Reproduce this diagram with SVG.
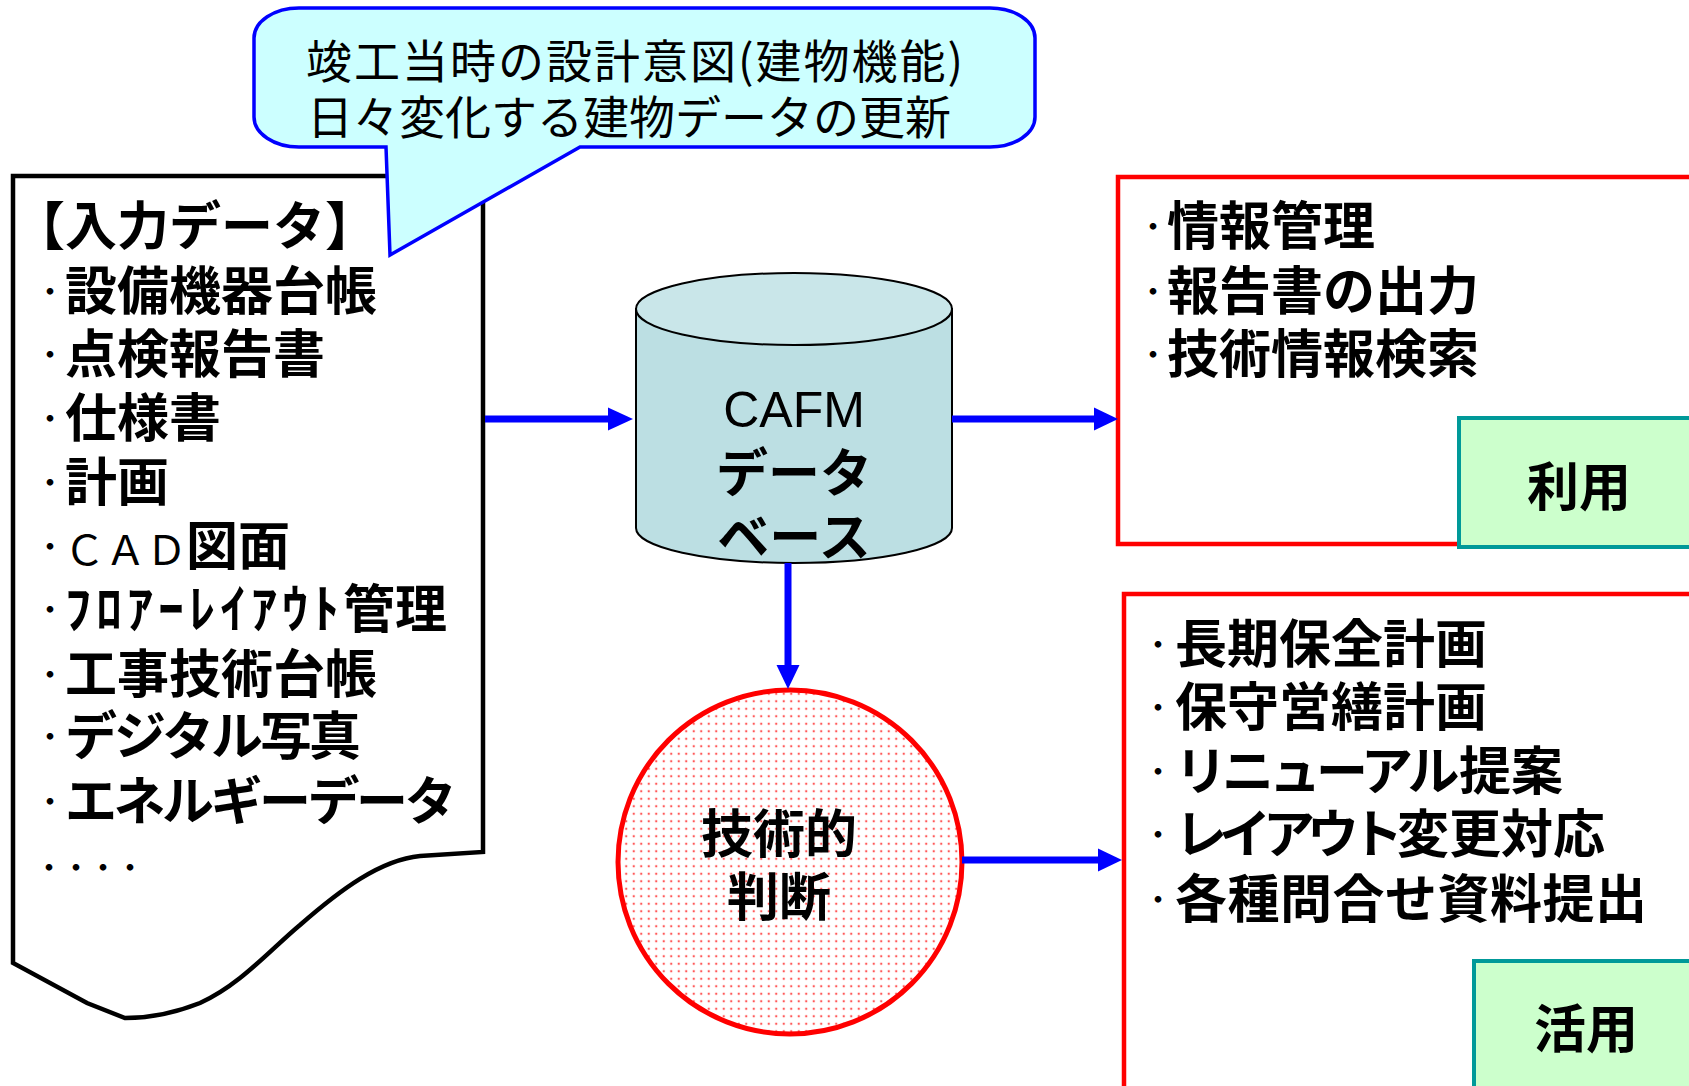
<svg xmlns="http://www.w3.org/2000/svg" width="1689" height="1086" viewBox="0 0 1689 1086">
<style>
.jp{font-family:"Noto Sans CJK JP","Noto Sans",sans-serif;fill:#000}
.b{font-weight:bold;font-size:52px}
.r{font-weight:normal;font-size:46px}
.bul{font-size:26px;font-weight:bold}
.red{fill:#fff;stroke:#ff0000;stroke-width:4.5}
.grn{fill:#ccffcc;stroke:#009999;stroke-width:4}
.conn line{stroke:#0000ff;stroke-width:7}
.conn polygon{fill:#0000ff}
</style>
<defs>
<pattern id="dots" width="7.5" height="7.5" patternUnits="userSpaceOnUse">
<rect width="7.5" height="7.5" fill="#fff"/>
<circle cx="3.75" cy="3.75" r="1.2" fill="#ff3b3b" opacity="0.85"/>
</pattern>
</defs>
<rect width="1689" height="1086" fill="#fff"/>

<g id="input-data">
<path d="M13,176 H483 V852 L420,856 C380,860 340,890 300,925 C270,950 240,985 200,1003 C175,1013 150,1018 125,1018 L87,1003 L13,963 Z" fill="#fff" stroke="#000" stroke-width="4.5" stroke-linejoin="miter"/>
<text class="jp b" y="245"><tspan x="13">【</tspan><tspan x="65">入力データ】</tspan></text>
<text class="jp b"><tspan class="bul" x="37" y="301">・</tspan><tspan x="65" y="310">設備機器台帳</tspan></text>
<text class="jp b"><tspan class="bul" x="37" y="364">・</tspan><tspan x="65" y="373">点検報告書</tspan></text>
<text class="jp b"><tspan class="bul" x="37" y="428">・</tspan><tspan x="65" y="437">仕様書</tspan></text>
<text class="jp b"><tspan class="bul" x="37" y="492">・</tspan><tspan x="65" y="501">計画</tspan></text>
<text class="jp b"><tspan class="bul" x="37" y="556">・</tspan><tspan x="64" y="565" font-weight="normal" font-size="41">ＣＡＤ</tspan><tspan x="186" y="565">図面</tspan></text>
<text class="jp b"><tspan class="bul" x="37" y="619">・</tspan><tspan x="65" y="628" letter-spacing="5">ﾌﾛｱｰﾚｲｱｳﾄ</tspan><tspan x="343" y="628">管理</tspan></text>
<text class="jp b"><tspan class="bul" x="37" y="684">・</tspan><tspan x="65" y="693">工事技術台帳</tspan></text>
<text class="jp b"><tspan class="bul" x="37" y="746">・</tspan><tspan x="65" y="755" letter-spacing="-3">デジタル写真</tspan></text>
<text class="jp b"><tspan class="bul" x="37" y="811">・</tspan><tspan x="65" y="820" letter-spacing="-3.5">エネルギーデータ</tspan></text>
<text class="jp bul" x="36" y="877" letter-spacing="1">・・・・</text>
</g>

<g id="callout">
<path d="M299,8 H990 A45,30 0 0 1 1035,38 V117 A45,30 0 0 1 990,147 H580 L390,255 L386,147 H299 A45,30 0 0 1 254,117 V38 A45,30 0 0 1 299,8 Z" fill="#ccffff" stroke="#0000ff" stroke-width="3.5" stroke-linejoin="miter"/>
<text class="jp r" x="306" y="78" letter-spacing="2">竣工当時の設計意図(建物機能)</text>
<text class="jp r" x="307" y="134">日々変化する建物データの更新</text>
</g>

<g id="cafm-db">
<path d="M636,309 V528 A158,35 0 0 0 952,528 V309 Z" fill="#bcdfe3" stroke="#000" stroke-width="2"/>
<ellipse cx="794" cy="309" rx="158" ry="36" fill="#c9e6e9" stroke="#000" stroke-width="2"/>
<text x="794" y="427" text-anchor="middle" font-family="Liberation Sans, Arial, sans-serif" font-size="50" fill="#000">CAFM</text>
<text class="jp b" x="794" y="492" text-anchor="middle" font-size="50">データ</text>
<text class="jp b" x="794" y="556" text-anchor="middle" font-size="50">ベース</text>
</g>

<g id="use-box">
<rect class="red" x="1118" y="177" width="620" height="367"/>
<text class="jp b"><tspan class="bul" x="1140" y="236">・</tspan><tspan x="1167" y="245">情報管理</tspan></text>
<text class="jp b"><tspan class="bul" x="1140" y="301">・</tspan><tspan x="1167" y="310">報告書の出力</tspan></text>
<text class="jp b"><tspan class="bul" x="1140" y="364">・</tspan><tspan x="1167" y="373">技術情報検索</tspan></text>
</g>

<g id="use-label">
<rect class="grn" x="1459" y="418" width="280" height="129"/>
<text class="jp b" x="1579" y="506" text-anchor="middle">利用</text>
</g>

<g id="apply-box">
<rect class="red" x="1124" y="594" width="620" height="540"/>
<text class="jp b"><tspan class="bul" x="1145" y="654">・</tspan><tspan x="1175" y="663">長期保全計画</tspan></text>
<text class="jp b"><tspan class="bul" x="1145" y="717">・</tspan><tspan x="1175" y="726">保守営繕計画</tspan></text>
<text class="jp b"><tspan class="bul" x="1145" y="781">・</tspan><tspan x="1175" y="790" letter-spacing="-5">リニューアル</tspan><tspan x="1459" y="790">提案</tspan></text>
<text class="jp b"><tspan class="bul" x="1145" y="844">・</tspan><tspan x="1175" y="853" letter-spacing="-8">レイアウト</tspan><tspan x="1397" y="853">変更対応</tspan></text>
<text class="jp b"><tspan class="bul" x="1145" y="909">・</tspan><tspan x="1175" y="918" letter-spacing="0.5">各種問合せ資料提出</tspan></text>
</g>

<g id="apply-label">
<rect class="grn" x="1474" y="961" width="280" height="200"/>
<text class="jp b" x="1586" y="1048" text-anchor="middle">活用</text>
</g>

<g id="judgement">
<circle cx="790" cy="862" r="172" fill="url(#dots)" stroke="#ff0000" stroke-width="5"/>
<text class="jp b" x="779" y="853" text-anchor="middle">技術的</text>
<text class="jp b" x="779" y="916" text-anchor="middle">判断</text>
</g>

<g id="connectors" class="conn">
<line x1="485" y1="419" x2="610" y2="419"/>
<polygon points="608,407.5 633,419 608,430.5"/>
<line x1="952" y1="419" x2="1096" y2="419"/>
<polygon points="1094,407.5 1118,419 1094,430.5"/>
<line x1="788" y1="563" x2="788" y2="667"/>
<polygon points="776.5,665 788,689 799.5,665"/>
<line x1="962" y1="860" x2="1100" y2="860"/>
<polygon points="1098,848.5 1122,860 1098,871.5"/>
</g>
</svg>
